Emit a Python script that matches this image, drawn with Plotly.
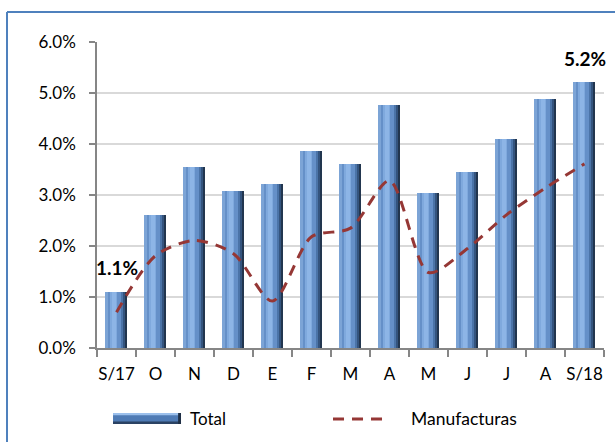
import plotly.graph_objects as go

categories = ["S/17", "O", "N", "D", "E", "F", "M", "A", "M", "J", "J", "A", "S/18"]
total = [1.10, 2.61, 3.54, 3.08, 3.22, 3.87, 3.61, 4.76, 3.03, 3.46, 4.09, 4.88, 5.21]
manufacturas = [0.70, 1.81, 2.11, 1.85, 0.92, 2.18, 2.35, 3.28, 1.48, 1.95, 2.61, 3.14, 3.61]
labeled_idx = [0, 12]
ytick_vals = [0, 1, 2, 3, 4, 5, 6]

xpos = list(range(len(categories)))
FONT = "Lato"

fig = go.Figure()

# bevelled bars built from overlaid layers of the same data
layers = [
    (-0.28, 0.56, "#22364F"),
    (-0.28, 0.50, "#34547E"),
    (-0.28, 0.45, "#4B74A8"),
    (-0.28, 0.40, "#6590C8"),
    (-0.28, 0.05, "#7CA4D6"),
    (-0.16, 0.18, "#7FA9DD"),
    (-0.12, 0.10, "#8DB5E6"),
]
for off, w, col in layers:
    fig.add_trace(go.Bar(
        x=xpos, y=total, offset=off, width=w,
        marker=dict(color=col, line=dict(width=0)),
        showlegend=False, hoverinfo="skip",
    ))

fig.add_trace(go.Scatter(
    x=xpos, y=manufacturas, mode="lines",
    line=dict(color="#953735", width=3, dash="11px,8px", shape="spline", smoothing=0.8),
    showlegend=False,
))

for i in labeled_idx:
    fig.add_annotation(
        x=xpos[i], y=total[i], text=f"<b>{total[i]:.1f}%</b>",
        showarrow=False, yshift=24, yanchor="middle",
        font=dict(family=FONT, size=19, color="#000000"),
    )

# custom legend
shapes = []
shapes.append(dict(type="rect", xref="paper", yref="paper", x0=0.0316, x1=0.1657, y0=-0.2484, y1=-0.2124,
                   fillcolor="#4F7BB5", line=dict(width=0)))
shapes.append(dict(type="rect", xref="paper", yref="paper", x0=0.0316, x1=0.1657, y0=-0.2200, y1=-0.2124,
                   fillcolor="#9CC0EC", line=dict(width=0)))
shapes.append(dict(type="rect", xref="paper", yref="paper", x0=0.0316, x1=0.1657, y0=-0.2484, y1=-0.2400,
                   fillcolor="#2B4263", line=dict(width=0)))
shapes.append(dict(type="rect", xref="paper", yref="paper", x0=0.1600, x1=0.1657, y0=-0.2484, y1=-0.2124,
                   fillcolor="#1F2F45", line=dict(width=0)))
shapes.append(dict(type="line", xref="paper", yref="paper", x0=0.4655, x1=0.5779, y0=-0.232, y1=-0.232,
                   line=dict(color="#953735", width=3, dash="11px,8px")))
# outer frame (left and top edges)
shapes.append(dict(type="line", xref="paper", yref="paper", x0=-0.1775, x1=-0.1775, y0=1.098, y1=-0.32,
                   line=dict(color="#4F81BD", width=2)))
shapes.append(dict(type="line", xref="paper", yref="paper", x0=-0.1775, x1=1.03, y0=1.098, y1=1.098,
                   line=dict(color="#4F81BD", width=2)))

fig.add_annotation(x=0.1795, y=-0.232, xref="paper", yref="paper", text="Total", showarrow=False,
                   xanchor="left", yanchor="middle", font=dict(family=FONT, size=17, color="#000000"))
fig.add_annotation(x=0.6154, y=-0.232, xref="paper", yref="paper", text="Manufacturas", showarrow=False,
                   xanchor="left", yanchor="middle", font=dict(family=FONT, size=17.5, color="#000000"))

fig.update_layout(
    width=615, height=442,
    margin=dict(l=97, r=11, t=42, b=94),
    paper_bgcolor="white", plot_bgcolor="white",
    barmode="overlay", bargap=0,
    showlegend=False,
    shapes=shapes,
    font=dict(family=FONT, size=17, color="#000000"),
    xaxis=dict(
        range=[-0.5, 12.5], tickvals=xpos, ticktext=categories,
        ticks="outside", ticklen=10, tickcolor="rgba(0,0,0,0)",
        showline=True, linecolor="#868686", linewidth=1.5,
        showgrid=False, zeroline=False,
        minor=dict(tick0=-0.5, dtick=1, ticks="outside", ticklen=7, tickcolor="#868686", tickwidth=1.5),
        tickfont=dict(family=FONT, size=17),
    ),
    yaxis=dict(
        range=[0, 6], tickvals=ytick_vals, ticktext=[f"{v:.1f}%" for v in ytick_vals],
        ticks="outside", ticklen=6, tickcolor="#868686", tickwidth=1.5,
        showline=True, linecolor="#868686", linewidth=1.5,
        showgrid=True, gridcolor="#D9D9D9", gridwidth=1.5,
        zeroline=False, ticklabelstandoff=10,
        tickfont=dict(family=FONT, size=17),
    ),
)

fig.write_html("out.html", config={"displayModeBar": False},
               post_script="document.body.style.margin='0';document.body.style.overflow='hidden';")
